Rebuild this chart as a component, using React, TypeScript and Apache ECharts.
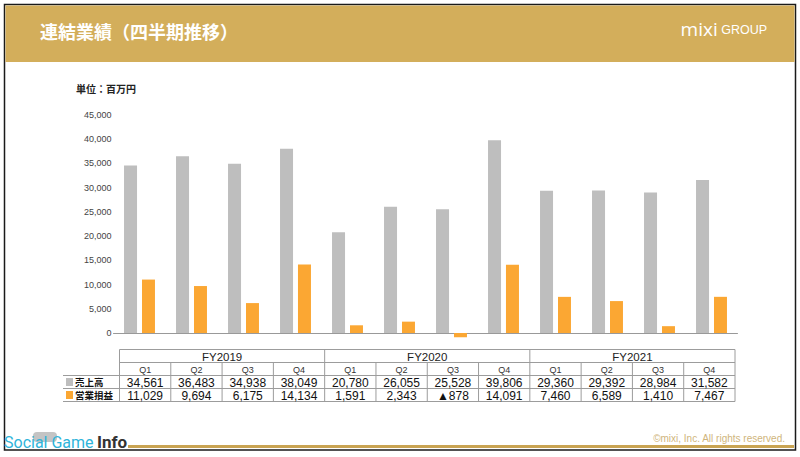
import React, { useEffect, useRef } from "react";
import * as echarts from "echarts";

const fiscalYears = ["FY2019", "FY2020", "FY2021"];
const quarters = ["Q1", "Q2", "Q3", "Q4"];
const seriesNames = ["売上高", "営業損益"];
const sales = [34561, 36483, 34938, 38049, 20780, 26055, 25528, 39806, 29360, 29392, 28984, 31582];
const operatingIncome = [11029, 9694, 6175, 14134, 1591, 2343, -878, 14091, 7460, 6589, 1410, 7467];
const yMax = 45000;
const yInterval = 5000;
const titleText = "連結業績（四半期推移）";
const unitText = "単位：百万円";
const copyrightText = "©mixi, Inc. All rights reserved.";

const GOLD = "#D3AE5B";
const GRAY = "#BEBEBE";
const ORANGE = "#FBA733";
const LINE = "#9c9c9c";

const fmt = (v: number) => (v < 0 ? "▲" + Math.abs(v).toLocaleString("en-US") : v.toLocaleString("en-US"));

function txt(text: string, x: number, y: number, opts: any = {}) {
  const align = opts.align || "left";
  const va = opts.va || "middle";
  return {
    type: "text",
    silent: true,
    z: 10,
    style: {
      text,
      x,
      y,
      fill: opts.fill || "#111",
      font: opts.font || "11px 'Liberation Sans', Arial, sans-serif",
      align,
      textAlign: align,
      verticalAlign: va,
      textVerticalAlign: va,
      rich: opts.rich,
    },
  };
}

function ln(x1: number, y1: number, x2: number, y2: number, color = LINE, w = 1) {
  return { type: "line", silent: true, z: 5, shape: { x1, y1, x2, y2 }, style: { stroke: color, lineWidth: w } };
}

function buildTable() {
  const els: any[] = [];
  const left = 119.5;
  const right = 735;
  const labelLeft = 63;
  const n = sales.length;
  const colW = (right - left) / n;
  const rows = [349.5, 362.5, 375.5, 388.5, 401.5];
  els.push(ln(left, rows[0], right, rows[0]));
  els.push(ln(left, rows[1], right, rows[1]));
  els.push(ln(labelLeft, rows[2], right, rows[2]));
  els.push(ln(labelLeft, rows[3], right, rows[3]));
  els.push(ln(labelLeft, rows[4], right, rows[4]));
  for (let i = 0; i <= n; i++) {
    const x = left + i * colW;
    const top = i % quarters.length === 0 ? rows[0] : rows[1];
    els.push(ln(x, top, x, rows[4]));
  }
  fiscalYears.forEach((fy, k) => {
    const cx = left + (k * quarters.length + quarters.length / 2) * colW;
    els.push(txt(fy, cx, (rows[0] + rows[1]) / 2 + 0.5, { align: "center", font: "11.5px 'Liberation Sans', Arial, sans-serif", fill: "#222" }));
  });
  for (let i = 0; i < n; i++) {
    const cx = left + (i + 0.5) * colW;
    els.push(txt(quarters[i % quarters.length], cx, (rows[1] + rows[2]) / 2 + 0.5, { align: "center", font: "9px 'Liberation Sans', Arial, sans-serif", fill: "#333" }));
    els.push(txt(fmt(sales[i]), cx, (rows[2] + rows[3]) / 2 + 0.5, { align: "center", font: "12px 'Liberation Sans', Arial, sans-serif", fill: "#111" }));
    els.push(txt(fmt(operatingIncome[i]), cx, (rows[3] + rows[4]) / 2 + 0.5, { align: "center", font: "12px 'Liberation Sans', Arial, sans-serif", fill: "#111" }));
  }
  const colors = [GRAY, ORANGE];
  seriesNames.forEach((name, k) => {
    const y0 = rows[2 + k];
    els.push({ type: "rect", silent: true, z: 6, shape: { x: 66, y: y0 + 2.5, width: 7, height: 8 }, style: { fill: colors[k] } });
    els.push(txt(name, 75, y0 + 6.5, { font: "bold 9.5px 'Noto Sans CJK JP', sans-serif", fill: "#111" }));
  });
  return els;
}

export default function App() {
  const ref = useRef<HTMLDivElement>(null);
  useEffect(() => {
    if (!ref.current) return;
    const chart = echarts.init(ref.current, undefined, { renderer: "svg" });
    const categories = fiscalYears.flatMap((fy) => quarters.map((q) => `${fy} ${q}`));
    const logo = txt("{a|mixi}{b| GROUP}", 767, 38, {
      align: "right",
      va: "bottom",
      fill: "#fff",
      rich: {
        a: { fontSize: 19, fontFamily: "'Open Sans', sans-serif", fill: "#fff", color: "#fff", verticalAlign: "bottom" },
        b: { fontSize: 12.5, fontFamily: "'Liberation Sans', Arial, sans-serif", fill: "#fff", color: "#fff", verticalAlign: "bottom", padding: [0, 0, 2, 0] },
      },
    });
    const graphic: any[] = [
      { type: "rect", silent: true, z: 1, shape: { x: 4.5, y: 4.5, width: 791, height: 445.5 }, style: { fill: "none", stroke: "#1a1a1a", lineWidth: 1.5 } },
      { type: "rect", silent: true, z: 2, shape: { x: 5.5, y: 5.5, width: 789, height: 56.5 }, style: { fill: GOLD } },
      txt(titleText, 40, 31, { font: "bold 18px 'Noto Sans CJK JP', sans-serif", fill: "#fff" }),
      logo,
      txt(unitText, 76, 88, { font: "bold 10px 'Noto Sans CJK JP', sans-serif", fill: "#222" }),
      { type: "rect", silent: true, z: 3, shape: { x: 128, y: 445, width: 666, height: 3 }, style: { fill: "#C9A453" } },
      txt(copyrightText, 785, 438, { align: "right", font: "10px 'Liberation Sans', Arial, sans-serif", fill: "#CFB57C" }),
      { type: "rect", silent: true, z: 8, shape: { x: 33, y: 432, width: 24, height: 10, r: 4 }, style: { fill: "#c4c4c4" } },
      txt("Social Game", 4, 450, { va: "bottom", font: "16px Roboto, sans-serif", fill: "#2FB4DA" }),
      txt("Info", 97, 450, { va: "bottom", font: "bold 17px Roboto, sans-serif", fill: "#333" }),
      ...buildTable(),
    ];

    chart.setOption({
      animation: false,
      backgroundColor: "#fff",
      grid: { left: 113.5, right: 62.5, top: 115, bottom: 124, containLabel: false },
      xAxis: {
        type: "category",
        data: categories,
        axisLine: { show: true, lineStyle: { color: "#999", width: 1 } },
        axisTick: { show: false },
        axisLabel: { show: false },
        z: 4,
      },
      yAxis: {
        type: "value",
        min: 0,
        max: yMax,
        interval: yInterval,
        axisLine: { show: false },
        axisTick: { show: false },
        splitLine: { show: false },
        z: 20,
        axisLabel: {
          margin: 2,
          color: "#444",
          fontSize: 9,
          fontFamily: "'Liberation Sans', Arial, sans-serif",
          formatter: (v: number) => v.toLocaleString("en-US"),
        },
      },
      series: [
        { name: seriesNames[0], type: "bar", data: sales, barWidth: 13, barGap: "38%", itemStyle: { color: GRAY }, clip: false, z: 5 },
        { name: seriesNames[1], type: "bar", data: operatingIncome, barWidth: 13, barGap: "38%", itemStyle: { color: ORANGE }, clip: false, z: 5 },
      ],
      graphic,
    });
    return () => chart.dispose();
  }, []);
  return <div ref={ref} style={{ position: "absolute", left: 0, top: 0, width: 800, height: 457 }} />;
}
